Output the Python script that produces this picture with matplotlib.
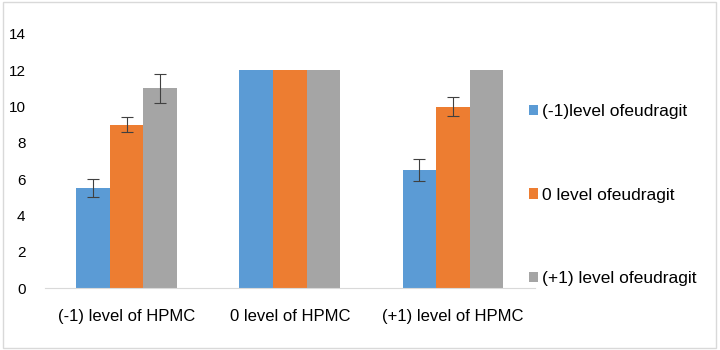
import matplotlib
matplotlib.use("Agg")
import matplotlib.pyplot as plt
from matplotlib.patches import Patch, Rectangle
import numpy as np

plt.rcParams["font.family"] = ["Liberation Sans", "DejaVu Sans"]

categories = ["(-1) level of HPMC", "0 level of HPMC", "(+1) level of HPMC"]
series_names = ["(-1)level ofeudragit", "0 level ofeudragit", "(+1) level ofeudragit"]
series_values = [
    [5.5, 12, 6.5],
    [9, 12, 10],
    [11, 12, 12],
]
series_errors = [
    [0.5, 0, 0.6],
    [0.42, 0, 0.5],
    [0.8, 0, 0],
]
series_colors = ["#5B9BD5", "#ED7D31", "#A5A5A5"]

fig = plt.figure(figsize=(7.2, 3.5), dpi=100)
ax = fig.add_axes([0.0625, 0.177, 0.68, 0.726])

x = np.arange(len(categories))
width = 0.206
for i, (vals, errs, color) in enumerate(zip(series_values, series_errors, series_colors)):
    pos = x + (i - 1) * width
    ax.bar(pos, vals, width=width, color=color, zorder=2)
    errs = np.array(errs)
    mask = errs > 0
    ax.errorbar(pos[mask], np.array(vals)[mask], yerr=errs[mask], fmt="none",
                ecolor="#404040", elinewidth=0.8, capsize=4, capthick=0.8, zorder=3)

ax.set_xlim(-0.5, 2.5)
ax.set_ylim(0, 14)
ax.set_yticks(range(0, 15, 2))
ax.set_xticks(x)
ax.set_xticklabels(categories, fontsize=12)
ax.tick_params(axis="both", length=0, colors="black")
ax.tick_params(axis="y", pad=14, labelsize=11)
ax.tick_params(axis="x", pad=15)

for side in ["top", "right", "left"]:
    ax.spines[side].set_visible(False)
ax.spines["bottom"].set_color("#D9D9D9")

handles = [Patch(facecolor=c, edgecolor="none") for c in series_colors]
fig.legend(handles, series_names, loc="upper left", bbox_to_anchor=(0.722, 0.727),
           frameon=False, fontsize=12.5, labelspacing=3.95, handlelength=0.55,
           handleheight=0.55, handletextpad=0.2, borderpad=0)

fig.patches.append(Rectangle((0.004, 0.006), 0.991, 0.988, transform=fig.transFigure,
                             fill=False, edgecolor="#D9D9D9", linewidth=1))

fig.savefig("out.png", dpi=100)
